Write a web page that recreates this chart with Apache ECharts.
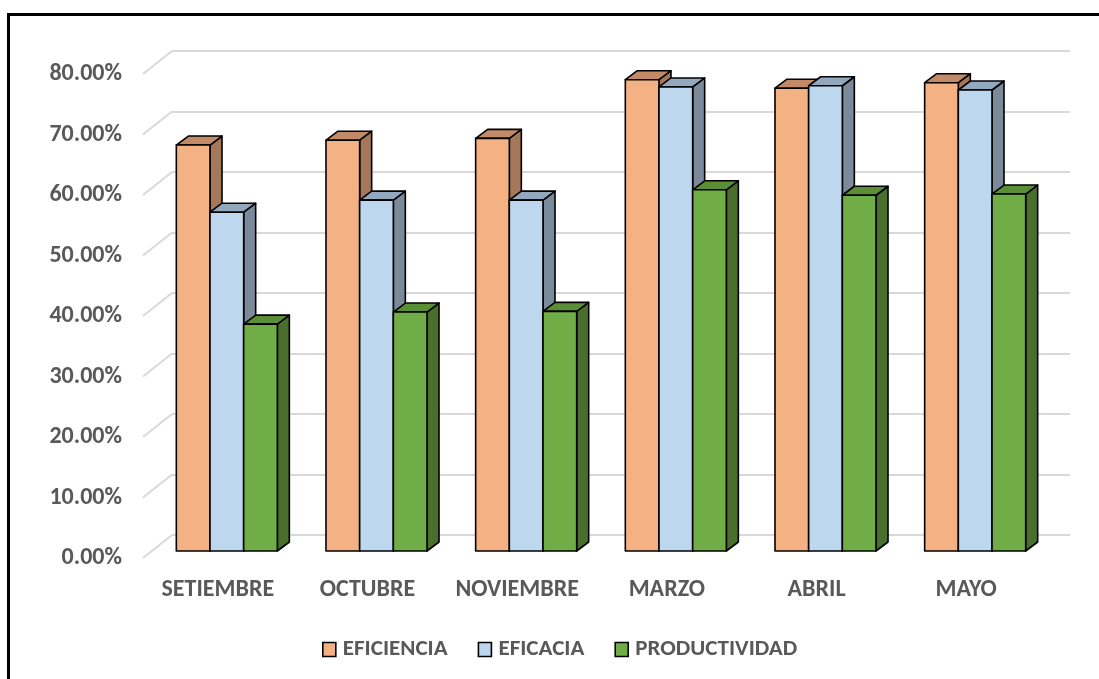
<!DOCTYPE html>
<html>
<head>
<meta charset="utf-8">
<script src="https://cdn.jsdelivr.net/npm/echarts@6/dist/echarts.min.js"></script>
<style>
  html, body { margin: 0; padding: 0; background: #fff; }
  #chart { width: 1099px; height: 679px; }
</style>
</head>
<body>
<div id="chart"></div>
<script>
// Monthly indicators (percent)
const categories = ['SETIEMBRE', 'OCTUBRE', 'NOVIEMBRE', 'MARZO', 'ABRIL', 'MAYO'];
const eficiencia = [67.1, 67.9, 68.2, 77.9, 76.5, 77.4];
const eficacia = [56.0, 58.0, 58.0, 76.7, 76.9, 76.2];
const productividad = [37.5, 39.5, 39.6, 59.7, 58.8, 59.0];
const yTicks = [0, 10, 20, 30, 40, 50, 60, 70, 80];

const FONT = "Carlito, 'Liberation Sans Narrow', sans-serif";
const TEXT_COLOR = '#595959';

// Faces of each 3D column: front, top, side
const palette = [
  { name: 'EFICIENCIA', front: '#F4B183', top: '#C38A68', side: '#A47858' },
  { name: 'EFICACIA', front: '#BDD7EE', top: '#91A8BE', side: '#7A8A9B' },
  { name: 'PRODUCTIVIDAD', front: '#70AD47', top: '#5A8F38', side: '#4A6E2C' }
];
const seriesData = [eficiencia, eficacia, productividad];

// depth offset of a column (right, up)
const DX = 12, DY = -9;
// depth offset of the wall floor edge (front plane relative to back plane)
const WALL_DX = -29, WALL_DY = 23;

function columnRenderer(slot) {
  const c = palette[slot];
  return function (params, api) {
    const idx = api.value(0);
    const band = api.size([1, 0])[0];
    const bw = band * 0.225;
    const center = api.coord([idx, 0])[0];
    const x = center - 1.5 * bw + slot * bw;
    const yTop = api.coord([idx, api.value(1)])[1];
    const yBot = api.coord([idx, 0])[1];
    const stroke = { stroke: '#000', lineWidth: 1.6, lineJoin: 'round' };
    return {
      type: 'group',
      children: [
        {
          type: 'polygon',
          shape: { points: [[x + bw, yTop], [x + bw + DX, yTop + DY], [x + bw + DX, yBot + DY], [x + bw, yBot]] },
          style: Object.assign({ fill: c.side }, stroke)
        },
        {
          type: 'polygon',
          shape: { points: [[x, yTop], [x + DX, yTop + DY], [x + bw + DX, yTop + DY], [x + bw, yTop]] },
          style: Object.assign({ fill: c.top }, stroke)
        },
        {
          type: 'rect',
          shape: { x: x, y: yTop, width: bw, height: yBot - yTop },
          style: Object.assign({ fill: c.front }, stroke)
        }
      ]
    };
  };
}

const hiddenX = (gi) => ({
  type: 'category', gridIndex: gi, data: categories,
  axisLine: { show: false }, axisTick: { show: false }, axisLabel: { show: false }, splitLine: { show: false }
});
const valueY = (gi) => ({
  type: 'value', gridIndex: gi, min: 0, max: 80, interval: 10,
  axisLine: { show: false }, axisTick: { show: false }, axisLabel: { show: false }, splitLine: { show: false }
});

const chart = echarts.init(document.getElementById('chart'), null, { renderer: 'canvas' });

const option = {
  backgroundColor: '#ffffff',
  animation: false,
  grid: [
    // back wall
    { left: 172, top: 51, width: 898, height: 484 },
    // column front faces
    { left: 152, top: 67, width: 898, height: 484 },
    // front edge, carries the axis labels
    { left: 143, top: 74, width: 898, height: 484 }
  ],
  xAxis: [
    hiddenX(0),
    hiddenX(1),
    Object.assign(hiddenX(2), {
      axisLabel: {
        show: true, interval: 0, margin: 20,
        color: TEXT_COLOR, fontFamily: FONT, fontWeight: 'bold', fontSize: 24
      }
    })
  ],
  yAxis: [
    Object.assign(valueY(0), {
      splitLine: { show: true, lineStyle: { color: '#D9D9D9', width: 2 } }
    }),
    valueY(1),
    Object.assign(valueY(2), {
      axisLabel: {
        show: true, margin: 21, padding: [4, 0, 0, 0],
        color: TEXT_COLOR, fontFamily: FONT, fontWeight: 'bold', fontSize: 24,
        formatter: (v) => v.toFixed(2) + '%'
      }
    })
  ],
  legend: {
    data: palette.map((c) => ({
      name: c.name, icon: 'rect',
      itemStyle: { color: c.front, borderColor: '#000', borderWidth: 1.6 }
    })),
    left: 317, top: 633,
    itemWidth: 13, itemHeight: 14, itemGap: 30,
    textStyle: { color: TEXT_COLOR, fontFamily: FONT, fontWeight: 'bold', fontSize: 23, padding: [0, 0, 0, 2] },
    selectedMode: false
  },
  graphic: [
    {
      type: 'rect', silent: true, z: 100,
      shape: { x: 8.5, y: 14.5, width: 1200, height: 800 },
      style: { fill: 'none', stroke: '#000', lineWidth: 3 }
    }
  ],
  series: [
    // side-wall edges joining the back gridlines to the front plane
    {
      type: 'custom', xAxisIndex: 0, yAxisIndex: 0, silent: true,
      data: yTicks.map((v) => [0, v]),
      renderItem: function (params, api) {
        const x0 = params.coordSys.x;
        const y = api.coord([0, api.value(1)])[1];
        return {
          type: 'line',
          shape: { x1: x0, y1: y, x2: x0 + WALL_DX, y2: y + WALL_DY },
          style: { stroke: '#D9D9D9', lineWidth: 2 }
        };
      }
    }
  ].concat(palette.map((c, s) => ({
    name: c.name,
    type: 'custom', xAxisIndex: 1, yAxisIndex: 1,
    itemStyle: { color: c.front, borderColor: '#000', borderWidth: 1.6 },
    data: seriesData[s].map((v, i) => [i, v]),
    renderItem: columnRenderer(s)
  })))
};

chart.setOption(option);
</script>
</body>
</html>
